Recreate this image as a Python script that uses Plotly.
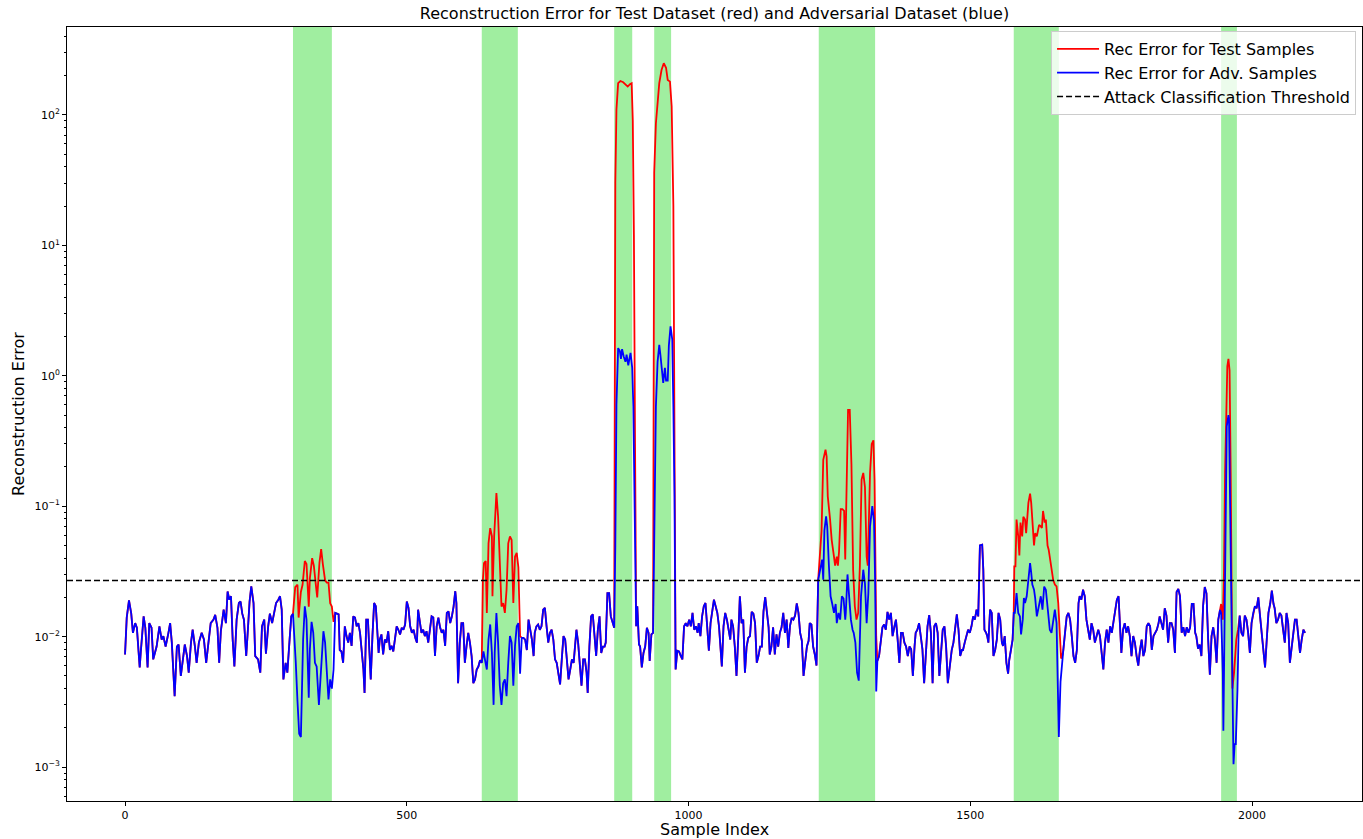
import plotly.graph_objects as go

# ---------------- data ----------------
# samples outside the attack windows (identical for both datasets)
normal_idx = [0, 3, 7, 11, 14, 18, 21, 26, 28, 33, 36, 40, 43, 47, 50, 56, 61, 65, 68, 72, 77, 80, 83, 88, 92, 95, 99,
              102, 106, 110, 113, 117, 120, 124, 127, 131, 136, 140, 144, 148, 152, 157, 160, 164, 167, 170, 175, 179,
              182, 185, 188, 191, 194, 198, 202, 205, 208, 211, 215, 218, 221, 224, 228, 231, 236, 240, 243, 247, 250,
              254, 257, 261, 264, 268, 272, 275, 278, 281, 285, 288, 292, 295,
              376, 379, 381, 384, 387, 390, 393, 396, 399, 402, 405, 408, 411, 414, 417, 420, 423, 425, 428, 431, 434,
              436, 439, 442, 445, 448, 450, 452, 455, 458, 461, 464, 467, 470, 473, 476, 479, 482, 485, 488, 491, 494,
              497, 500, 503, 506, 509, 512, 515, 518, 520, 523, 526, 529, 532, 535, 538, 541, 544, 547, 550, 553, 556,
              559, 562, 565, 568, 571, 574, 577, 580, 583, 586, 588, 591, 594, 597, 600, 603, 606, 609, 612, 615, 618,
              621, 624, 627, 630,
              707, 710, 713, 716, 719, 722, 725, 727, 730, 733, 736, 739, 742, 745, 748, 751, 754, 757, 760, 763, 766,
              769, 772, 775, 778, 781, 784, 787, 790, 793, 796, 799, 801, 804, 807, 810, 813, 816, 819, 821, 824, 827,
              830, 833, 836, 839, 842, 845, 848, 851, 853, 856, 859, 862, 865,
              909, 912, 914, 917, 920, 923, 926, 929, 931, 934,
              980, 983, 986, 989, 992, 995, 998, 1001, 1004, 1007, 1010, 1013, 1016, 1018, 1021, 1024, 1027, 1030,
              1033, 1036, 1039, 1042, 1045, 1048, 1051, 1054, 1057, 1059, 1062, 1065, 1068, 1071, 1074, 1076, 1079,
              1082, 1085, 1088, 1091, 1094, 1097, 1100, 1103, 1106, 1109, 1112, 1115, 1118, 1121, 1124, 1127, 1130,
              1133, 1136, 1139, 1142, 1144, 1147, 1150, 1153, 1156, 1159, 1162, 1165, 1168, 1171, 1174, 1177, 1180,
              1183, 1186, 1189, 1192, 1195, 1198, 1201, 1204, 1207, 1210, 1213, 1215, 1218, 1221, 1224, 1227,
              1338, 1341, 1344, 1347, 1350, 1353, 1356, 1359, 1362, 1365, 1368, 1371, 1374, 1377, 1380, 1383, 1386,
              1389, 1392, 1395, 1398, 1401, 1403, 1406, 1409, 1412, 1415, 1418, 1421, 1424, 1427, 1430, 1433, 1436,
              1439, 1442, 1445, 1448, 1451, 1454, 1457, 1460, 1464, 1467, 1470, 1473, 1476, 1479, 1482, 1485, 1487,
              1490, 1493, 1496, 1499, 1502, 1505, 1508, 1511, 1514, 1517, 1521, 1523, 1525, 1528, 1530, 1532, 1535,
              1538, 1541, 1544, 1547, 1550, 1553, 1556, 1558, 1561, 1564, 1567, 1569, 1572, 1575,
              1665, 1668, 1671, 1674, 1677, 1680, 1683, 1686, 1689, 1692, 1694, 1697, 1700, 1703, 1706, 1709, 1712,
              1715, 1718, 1721, 1724, 1727, 1730, 1733, 1736, 1739, 1742, 1745, 1748, 1751, 1754, 1757, 1760, 1763,
              1765, 1768, 1771, 1774, 1777, 1780, 1783, 1786, 1789, 1792, 1795, 1798, 1801, 1804, 1807, 1810, 1813,
              1816, 1819, 1822, 1825, 1828, 1831, 1834, 1836, 1839, 1842, 1845, 1848, 1851, 1854, 1857, 1860, 1863,
              1866, 1869, 1872, 1875, 1878, 1881, 1884, 1887, 1890, 1893, 1896, 1899, 1901, 1904, 1907, 1910, 1913,
              1916, 1919, 1922, 1925, 1928, 1931, 1934, 1937, 1940,
              1981, 1984, 1987, 1990, 1993, 1996, 1999, 2002, 2005, 2008, 2011, 2014, 2017, 2020, 2023, 2026, 2029,
              2032, 2035, 2038, 2040, 2043, 2046, 2049, 2052, 2055, 2058, 2061, 2064, 2067, 2070, 2073, 2076, 2079,
              2082, 2085, 2088, 2091, 2094]
normal_err = [0.0073, 0.014, 0.019, 0.015, 0.0107, 0.0127, 0.0117, 0.0058, 0.0077, 0.0143, 0.0117, 0.0058, 0.0127,
              0.0117, 0.0067, 0.0084, 0.012, 0.0095, 0.0101, 0.0084, 0.0107, 0.0127, 0.009, 0.0035, 0.0084, 0.0087,
              0.005, 0.0067, 0.0087, 0.0071, 0.0053, 0.009, 0.0113, 0.0084, 0.0063, 0.009, 0.0107, 0.0095, 0.0063,
              0.009, 0.0127, 0.0135, 0.0147, 0.0117, 0.0063, 0.011, 0.0161, 0.0127, 0.0222, 0.0192, 0.0204, 0.0095,
              0.0059, 0.0135, 0.0181, 0.0186, 0.015, 0.0135, 0.0071, 0.0113, 0.0186, 0.0243, 0.0181, 0.0071, 0.0067,
              0.0053, 0.012, 0.0135, 0.0074, 0.012, 0.015, 0.0127, 0.0147, 0.0181, 0.0192, 0.0204, 0.0161, 0.0047,
              0.0063, 0.0053, 0.0095, 0.0143,
              0.015, 0.0148, 0.0079, 0.0077, 0.0063, 0.012, 0.0101, 0.009, 0.0107, 0.0085, 0.0143, 0.014, 0.012,
              0.0127, 0.0107, 0.0079, 0.0056, 0.0037, 0.0135, 0.0135, 0.0071, 0.0047, 0.0101, 0.0181, 0.0171, 0.0101,
              0.0075, 0.0095, 0.0104, 0.0073, 0.0095, 0.009, 0.011, 0.0079, 0.0085, 0.0077, 0.0095, 0.012, 0.0113,
              0.0104, 0.0117, 0.0113, 0.0124, 0.0186, 0.0166, 0.012, 0.0107, 0.0113, 0.0098, 0.009, 0.0161, 0.0135,
              0.0107, 0.0113, 0.0101, 0.011, 0.009, 0.0113, 0.0143, 0.014, 0.0071, 0.012, 0.014, 0.0118, 0.0107,
              0.0113, 0.0085, 0.0152, 0.0156, 0.0127, 0.0143, 0.017, 0.0223, 0.0181, 0.0044, 0.009, 0.0127, 0.0127,
              0.0063, 0.0085, 0.0107, 0.009, 0.0071, 0.0044, 0.0047, 0.0056, 0.0059, 0.0066,
              0.0098, 0.0095, 0.0079, 0.0135, 0.0113, 0.0095, 0.0071, 0.0107, 0.012, 0.0124, 0.0113, 0.012, 0.0161,
              0.0166, 0.012, 0.009, 0.0107, 0.0113, 0.0095, 0.0067, 0.0063, 0.0053, 0.0043, 0.0067, 0.0101, 0.0095,
              0.0067, 0.0047, 0.0056, 0.0067, 0.0063, 0.009, 0.0113, 0.009, 0.0059, 0.0042, 0.0067, 0.0067, 0.0053,
              0.0037, 0.0084, 0.0143, 0.0148, 0.0101, 0.0071, 0.0113, 0.0143, 0.0075, 0.0084, 0.0084, 0.009, 0.0216,
              0.0216, 0.0143, 0.0127,
              0.0171, 0.0087, 0.0084, 0.0058, 0.0075, 0.0084, 0.0117, 0.0107, 0.0065, 0.0104,
              0.0078, 0.0077, 0.0071, 0.0067, 0.012, 0.0127, 0.012, 0.0135, 0.012, 0.0152, 0.0113, 0.012, 0.0107,
              0.0127, 0.0101, 0.0143, 0.0171, 0.0181, 0.012, 0.0078, 0.0127, 0.0152, 0.0192, 0.0171, 0.0152, 0.012,
              0.0075, 0.0059, 0.012, 0.0152, 0.0135, 0.0113, 0.0095, 0.0135, 0.012, 0.0084, 0.005, 0.0095, 0.0204,
              0.0127, 0.0135, 0.0053, 0.0084, 0.0098, 0.0101, 0.0155, 0.015, 0.0127, 0.0063, 0.0071, 0.0084, 0.0084,
              0.0157, 0.0201, 0.0157, 0.0118, 0.0073, 0.0084, 0.0118, 0.0073, 0.0104, 0.0084, 0.0107, 0.0118, 0.0152,
              0.0107, 0.0135, 0.0082, 0.0121, 0.0139, 0.0135, 0.0145, 0.018, 0.0152, 0.0107, 0.0093, 0.005, 0.0067,
              0.0084, 0.0093, 0.0127, 0.0124, 0.0084, 0.0073, 0.006,
              0.0071, 0.0098, 0.0118, 0.0124, 0.0113, 0.0155, 0.0135, 0.0152, 0.0101, 0.0118, 0.0135, 0.0095, 0.0063,
              0.0107, 0.0107, 0.009, 0.0084, 0.0071, 0.0084, 0.008, 0.005, 0.0084, 0.0107, 0.0113, 0.0127, 0.0101,
              0.008, 0.0044, 0.0078, 0.012, 0.0146, 0.0107, 0.0044, 0.012, 0.0127, 0.0107, 0.005, 0.0084, 0.0113,
              0.012, 0.0084, 0.0044, 0.0065, 0.0079, 0.009, 0.012, 0.0148, 0.0113, 0.0071, 0.0079, 0.0079, 0.009,
              0.0101, 0.0113, 0.0107, 0.012, 0.0143, 0.0135, 0.0161, 0.0143, 0.05, 0.0507, 0.0326, 0.0113, 0.0107,
              0.0101, 0.009, 0.0161, 0.0152, 0.0071, 0.0079, 0.0095, 0.0152, 0.0135, 0.009, 0.0085, 0.0101, 0.0063,
              0.0052, 0.0066, 0.0079, 0.0095,
              0.0079, 0.0107, 0.0143, 0.0152, 0.0135, 0.0101, 0.0071, 0.0063, 0.0079, 0.0181, 0.0204, 0.0192, 0.0229,
              0.0204, 0.0135, 0.0113, 0.0095, 0.0127, 0.0113, 0.009, 0.0101, 0.0113, 0.0101, 0.0079, 0.0056, 0.009,
              0.0113, 0.009, 0.012, 0.0107, 0.0127, 0.0161, 0.0192, 0.0204, 0.0135, 0.0075, 0.0113, 0.0127, 0.0107,
              0.012, 0.0101, 0.0071, 0.0101, 0.009, 0.0071, 0.006, 0.0079, 0.0095, 0.0071, 0.0079, 0.012, 0.0127,
              0.012, 0.0079, 0.0101, 0.0107, 0.0113, 0.0127, 0.0143, 0.0127, 0.0113, 0.0165, 0.0145, 0.009, 0.0127,
              0.0127, 0.0113, 0.0075, 0.022, 0.0232, 0.0205, 0.0107, 0.0118, 0.0101, 0.0118, 0.0107, 0.0118, 0.0178,
              0.0178, 0.0107, 0.0101, 0.0081, 0.0087, 0.0071, 0.0171, 0.024, 0.0215, 0.0095, 0.0051, 0.0101, 0.0118,
              0.0095, 0.0063, 0.0135,
              0.0107, 0.0101, 0.0145, 0.0135, 0.0107, 0.0075, 0.0127, 0.0152, 0.0171, 0.0165, 0.02, 0.0145, 0.0107,
              0.0075, 0.0058, 0.0095, 0.0152, 0.0178, 0.0225, 0.0178, 0.0165, 0.0127, 0.0135, 0.0152, 0.0145, 0.0113,
              0.009, 0.0152, 0.0127, 0.0063, 0.0081, 0.0095, 0.0135, 0.0135, 0.0095, 0.0075, 0.0095, 0.0113, 0.0107]

# samples inside the attack windows: adversarial dataset (blue)
adv_attack_idx = [298, 300, 303, 306, 309, 312, 314, 316, 319, 322, 326, 328, 331, 334, 337, 340, 344, 347, 350, 352,
                  355, 358, 361, 364, 367, 370, 373,
                  633, 636, 639, 642, 645, 648, 651, 654, 656, 659, 662, 665, 668, 671, 674, 677, 680, 683, 686, 689,
                  692, 695, 698, 701, 704,
                  868, 870, 872, 875, 878, 880, 882, 885, 888, 890, 893, 895, 897, 900, 902, 904, 906, 907,
                  937, 939, 942, 945, 948, 950, 953, 955, 958, 960, 963, 965, 968, 971, 973, 975, 977,
                  1230, 1234, 1237, 1239, 1241, 1244, 1246, 1249, 1252, 1255, 1258, 1261, 1263, 1266, 1269, 1272,
                  1275, 1278, 1279, 1282, 1285, 1288, 1291, 1293, 1296, 1299, 1302, 1304, 1306, 1310, 1313, 1316,
                  1319, 1322, 1326, 1329, 1331, 1333, 1335,
                  1577, 1579, 1582, 1585, 1588, 1590, 1593, 1595, 1597, 1600, 1603, 1606, 1608, 1610, 1613, 1615,
                  1618, 1620, 1622, 1625, 1628, 1631, 1634, 1637, 1638, 1641, 1644, 1647, 1650, 1653, 1655, 1657,
                  1660, 1663,
                  1943, 1945, 1948, 1949, 1951, 1953, 1955, 1958, 1959, 1961, 1963, 1965, 1967, 1969, 1971, 1974,
                  1976, 1978]
adv_attack_err = [0.015, 0.0113, 0.0063, 0.0032, 0.0018, 0.0017, 0.0045, 0.0095, 0.0171, 0.0135, 0.0034, 0.008,
                  0.013, 0.0107, 0.0063, 0.0059, 0.003, 0.0053, 0.0095, 0.011, 0.009, 0.0056, 0.0033, 0.0047, 0.004,
                  0.0056, 0.0152,
                  0.0063, 0.0077, 0.0063, 0.0056, 0.0095, 0.0124, 0.0075, 0.003, 0.0075, 0.0152, 0.009, 0.0042, 0.003,
                  0.0044, 0.0047, 0.0035, 0.0063, 0.0101, 0.009, 0.0042, 0.0085, 0.012, 0.0127, 0.0052, 0.0098,
                  0.0117, 0.05, 0.6, 1.63, 1.55, 1.35, 1.6, 1.4, 1.28, 1.45, 1.2, 1.35, 1.5, 1.15, 0.58, 0.12, 0.012,
                  0.012,
                  0.0107, 0.05, 0.58, 1.28, 1.73, 1.45, 1.05, 0.88, 1.15, 0.92, 0.92, 1.7, 2.39, 1.9, 0.58, 0.12,
                  0.0056,
                  0.0273, 0.0326, 0.039, 0.0273, 0.065, 0.0836, 0.07, 0.035, 0.0204, 0.0178, 0.0152, 0.0178, 0.0127,
                  0.0152, 0.0135, 0.0204, 0.0196, 0.0135, 0.0152, 0.03, 0.0204, 0.0135, 0.0113, 0.0107, 0.009, 0.0053,
                  0.0046, 0.0101, 0.0204, 0.0326, 0.0255, 0.0127, 0.0215, 0.07, 0.1, 0.078, 0.0273, 0.0038, 0.0065,
                  0.0152, 0.0152, 0.0216, 0.0152, 0.0143, 0.0104, 0.0135, 0.0198, 0.0181, 0.0204, 0.0273, 0.0367,
                  0.031, 0.0251, 0.0229, 0.0198, 0.0143, 0.0161, 0.0171, 0.0204, 0.0161, 0.0242, 0.0229, 0.0171,
                  0.0152, 0.0113, 0.0107, 0.0135, 0.0161, 0.0127, 0.0056, 0.0017, 0.0045, 0.0071,
                  0.016, 0.0152, 0.0053, 0.0019, 0.0095, 0.1, 0.41, 0.5, 0.47, 0.1, 0.017, 0.0029, 0.00105, 0.0015,
                  0.0015, 0.0039, 0.0107, 0.0145]

# samples inside the attack windows: test dataset (red)
test_attack_idx = [298, 300, 302, 306, 308, 312, 315, 319, 322, 326, 328, 332, 335, 339, 341, 345, 348, 351, 353,
                   355, 358, 361, 364, 367, 370, 373,
                   633, 635, 637, 640, 642, 645, 648, 651, 652, 655, 657, 659, 662, 665, 668, 671, 674, 677, 680,
                   683, 686, 689, 692, 695, 698, 701, 704,
                   868, 870, 872, 875, 879, 884, 889, 892, 896, 899, 901, 903, 905, 907,
                   937, 939, 942, 945, 948, 952, 956, 960, 963, 967, 970, 973, 975, 977,
                   1230, 1233, 1236, 1239, 1243, 1245, 1247, 1251, 1254, 1258, 1260, 1263, 1265, 1267, 1270, 1273,
                   1276, 1278, 1281, 1283, 1286, 1289, 1292, 1295, 1298, 1301, 1304, 1307, 1310, 1313, 1316, 1318,
                   1322, 1325, 1328, 1330, 1333, 1335,
                   1577, 1578, 1580, 1582, 1585, 1587, 1589, 1592, 1594, 1597, 1599, 1601, 1603, 1606, 1608, 1610,
                   1613, 1615, 1618, 1620, 1622, 1625, 1627, 1629, 1632, 1634, 1637, 1639, 1641, 1644, 1647, 1650,
                   1653, 1656, 1659, 1661, 1663,
                   1943, 1945, 1948, 1950, 1952, 1954, 1956, 1958, 1960, 1962, 1964, 1965, 1968, 1970, 1972, 1975,
                   1978]
test_attack_err = [0.015, 0.02, 0.024, 0.025, 0.014, 0.022, 0.025, 0.038, 0.036, 0.017, 0.028, 0.04, 0.035, 0.024,
                   0.02, 0.037, 0.047, 0.036, 0.03, 0.027, 0.026, 0.026, 0.018, 0.017, 0.013, 0.0152,
                   0.0063, 0.0273, 0.0367, 0.038, 0.0152, 0.052, 0.068, 0.059, 0.0204, 0.059, 0.094, 0.126, 0.083,
                   0.0326, 0.017, 0.0181, 0.0152, 0.0229, 0.052, 0.0587, 0.055, 0.0181, 0.041, 0.0438, 0.034, 0.0101,
                   0.0098,
                   0.0117, 30, 110, 175, 182, 178, 168, 165, 172, 175, 90, 12, 0.3, 0.012,
                   0.0107, 36, 86, 130, 175, 221, 249, 230, 185, 180, 116, 20, 0.3, 0.0056,
                   0.0273, 0.039, 0.065, 0.227, 0.271, 0.24, 0.119, 0.08, 0.055, 0.041, 0.035, 0.041, 0.035, 0.045,
                   0.095, 0.095, 0.092, 0.039, 0.28, 0.548, 0.548, 0.21, 0.0326, 0.0171, 0.0135, 0.0152, 0.035, 0.16,
                   0.18, 0.14, 0.041, 0.035, 0.18, 0.3, 0.32, 0.16, 0.01, 0.0065,
                   0.0152, 0.0346, 0.0346, 0.079, 0.0587, 0.042, 0.075, 0.0587, 0.083, 0.079, 0.062, 0.088, 0.106,
                   0.125, 0.106, 0.079, 0.05, 0.062, 0.0587, 0.065, 0.072, 0.07, 0.068, 0.092, 0.075, 0.079, 0.05,
                   0.0464, 0.041, 0.0346, 0.0273, 0.0251, 0.0243, 0.0181, 0.0113, 0.0068, 0.0071,
                   0.016, 0.0178, 0.0135, 0.03, 0.179, 0.58, 1.18, 1.35, 1.1, 0.18, 0.017, 0.004, 0.0053, 0.0071,
                   0.0095, 0.0113, 0.0145]

attack_start = [298, 633, 868, 939, 1231, 1577, 1945]
attack_end = [367, 697, 900, 969, 1331, 1657, 1973]
threshold = 0.027

x_ticks = [0, 500, 1000, 1500, 2000]
y_decades = [-3, -2, -1, 0, 1, 2]

# ---------------- build series ----------------
adv_pairs = sorted(zip(normal_idx + adv_attack_idx, normal_err + adv_attack_err))
test_pairs = sorted(zip(normal_idx + test_attack_idx, normal_err + test_attack_err))
adv_x = [p[0] for p in adv_pairs]
adv_y = [p[1] for p in adv_pairs]
test_x = [p[0] for p in test_pairs]
test_y = [p[1] for p in test_pairs]

FONT = "DejaVu Sans"
x_range = [-103, 2195]
y_range = [-3.26, 2.674]

fig = go.Figure()
fig.add_trace(go.Scatter(x=test_x, y=test_y, mode="lines", name="Rec Error for Test Samples",
                         line=dict(color="red", width=1.8)))
fig.add_trace(go.Scatter(x=adv_x, y=adv_y, mode="lines", name="Rec Error for Adv. Samples",
                         line=dict(color="blue", width=1.8)))
fig.add_trace(go.Scatter(x=x_range, y=[threshold, threshold], mode="lines",
                         name="Attack Classification Threshold",
                         line=dict(color="black", width=1.5, dash="6px,3px")))

for s, e in zip(attack_start, attack_end):
    fig.add_shape(type="rect", xref="x", yref="paper", x0=s, x1=e, y0=0, y1=1,
                  fillcolor="rgb(160,238,160)", line=dict(width=0), layer="below")

minor_vals = [m * 10 ** d for d in range(-4, 3) for m in range(2, 10)]
sup = {-3: "−3", -2: "−2", -1: "−1", 0: "0", 1: "1", 2: "2"}

fig.update_layout(
    width=1363, height=839,
    margin=dict(l=67, r=1, t=27, b=38, autoexpand=False),
    plot_bgcolor="white", paper_bgcolor="white",
    font=dict(family=FONT, color="black"),
    title=dict(text="Reconstruction Error for Test Dataset (red) and Adversarial Dataset (blue)",
               x=0.5, xref="paper", xanchor="center", y=1 - 13 / 839, yref="container", yanchor="middle",
               font=dict(size=16, family=FONT, color="black")),
    showlegend=True,
    legend=dict(x=0.9954, y=0.9948, xanchor="right", yanchor="top",
                bgcolor="rgba(255,255,255,0.8)", bordercolor="#cccccc", borderwidth=1,
                font=dict(size=16, family=FONT, color="black"), tracegroupgap=0, itemwidth=42),
    xaxis=dict(range=x_range, tickmode="array", tickvals=x_ticks, ticktext=[str(t) for t in x_ticks],
               showgrid=False, zeroline=False, showline=True, linecolor="black", linewidth=1, mirror=True,
               ticks="outside", ticklen=4, tickwidth=1, tickcolor="black",
               tickfont=dict(size=11, family=FONT, color="black")),
    yaxis=dict(type="log", range=y_range, tickmode="array",
               tickvals=[10 ** d for d in y_decades],
               ticktext=["10<sup>%s</sup>" % sup[d] for d in y_decades],
               showgrid=False, zeroline=False, showline=True, linecolor="black", linewidth=1, mirror=True,
               ticks="outside", ticklen=4, tickwidth=1, tickcolor="black",
               tickfont=dict(size=11, family=FONT, color="black"),
               minor=dict(tickmode="array", tickvals=minor_vals, ticks="outside", ticklen=2,
                          tickcolor="black", tickwidth=0.8, showgrid=False)),
    annotations=[
        dict(text="Sample Index", xref="paper", yref="paper", x=0.5, y=(801 - 830) / 774,
             xanchor="center", yanchor="middle", showarrow=False,
             font=dict(size=16, family=FONT, color="black")),
        dict(text="Reconstruction Error", xref="paper", yref="paper", x=(18 - 67) / 1295, y=(801 - 414) / 774,
             xanchor="center", yanchor="middle", showarrow=False, textangle=-90,
             font=dict(size=16, family=FONT, color="black")),
    ],
)

fig.write_html("out.html", config={"displayModeBar": False},
               post_script="document.body.style.margin='0';document.body.style.padding='0';"
                           "document.documentElement.style.overflow='hidden';")
